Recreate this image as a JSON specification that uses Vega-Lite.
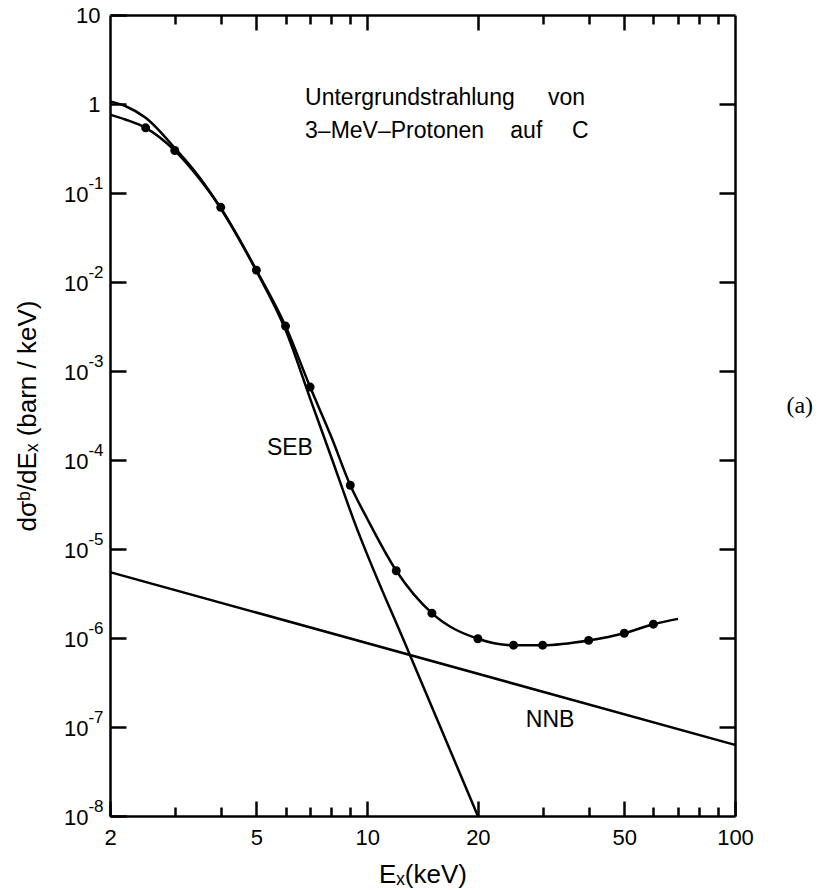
{
  "$schema": "https://vega.github.io/schema/vega-lite/v6.json",
  "width": 625,
  "height": 801,
  "autosize": {"type": "none"},
  "padding": {"left": 110, "top": 15, "right": 89, "bottom": 74},
  "background": "white",
  "config": {
    "view": {"stroke": null},
    "axis": {
      "grid": false,
      "labelFont": "Liberation Sans",
      "titleFont": "Liberation Sans",
      "labelColor": "black",
      "titleColor": "black",
      "domainColor": "black",
      "tickColor": "black",
      "domainWidth": 2.5,
      "tickWidth": 2.5,
      "labelFontSize": 22,
      "titleFontSize": 26,
      "titleFontWeight": "normal",
      "labelFlush": false,
      "labelOverlap": false
    }
  },
  "datasets": {
    "curves": [
      {"series": "SEB", "E": 2, "v": 1.07},
      {"series": "SEB", "E": 2.2, "v": 0.95},
      {"series": "SEB", "E": 2.5, "v": 0.7},
      {"series": "SEB", "E": 3, "v": 0.32},
      {"series": "SEB", "E": 3.5, "v": 0.15},
      {"series": "SEB", "E": 4, "v": 0.067},
      {"series": "SEB", "E": 5, "v": 0.0133},
      {"series": "SEB", "E": 6, "v": 0.0029},
      {"series": "SEB", "E": 7, "v": 0.00049},
      {"series": "SEB", "E": 8, "v": 0.000106},
      {"series": "SEB", "E": 9.2, "v": 2.1e-5},
      {"series": "SEB", "E": 13, "v": 6.8e-7},
      {"series": "SEB", "E": 16, "v": 8.9e-8},
      {"series": "SEB", "E": 20, "v": 1e-8},
      {"series": "Fit", "E": 2, "v": 0.76},
      {"series": "Fit", "E": 2.2, "v": 0.67},
      {"series": "Fit", "E": 2.5, "v": 0.54},
      {"series": "Fit", "E": 3, "v": 0.3},
      {"series": "Fit", "E": 3.5, "v": 0.145},
      {"series": "Fit", "E": 4, "v": 0.068},
      {"series": "Fit", "E": 5, "v": 0.0136},
      {"series": "Fit", "E": 6, "v": 0.0032},
      {"series": "Fit", "E": 7, "v": 0.00066},
      {"series": "Fit", "E": 8, "v": 0.00018},
      {"series": "Fit", "E": 9, "v": 5.2e-5},
      {"series": "Fit", "E": 10, "v": 2.2e-5},
      {"series": "Fit", "E": 12, "v": 5.7e-6},
      {"series": "Fit", "E": 15, "v": 1.9e-6},
      {"series": "Fit", "E": 20, "v": 9.8e-7},
      {"series": "Fit", "E": 25, "v": 8.3e-7},
      {"series": "Fit", "E": 30, "v": 8.3e-7},
      {"series": "Fit", "E": 40, "v": 9.4e-7},
      {"series": "Fit", "E": 50, "v": 1.13e-6},
      {"series": "Fit", "E": 60, "v": 1.43e-6},
      {"series": "Fit", "E": 70, "v": 1.64e-6},
      {"series": "NNB", "E": 2, "v": 5.5e-6},
      {"series": "NNB", "E": 100, "v": 6.3e-8}
    ],
    "points": [
      {"E": 2.5, "v": 0.54},
      {"E": 3, "v": 0.3},
      {"E": 4, "v": 0.069},
      {"E": 5, "v": 0.0136},
      {"E": 6, "v": 0.0032},
      {"E": 7, "v": 0.00066},
      {"E": 9, "v": 5.2e-5},
      {"E": 12, "v": 5.7e-6},
      {"E": 15, "v": 1.9e-6},
      {"E": 20, "v": 9.8e-7},
      {"E": 25, "v": 8.3e-7},
      {"E": 30, "v": 8.3e-7},
      {"E": 40, "v": 9.4e-7},
      {"E": 50, "v": 1.13e-6},
      {"E": 60, "v": 1.43e-6}
    ],
    "labels": [
      {"E": 6.78, "v": 0.975, "label": "Untergrundstrahlung"},
      {"E": 31.0, "v": 0.975, "label": "von"},
      {"E": 6.78, "v": 0.415, "label": "3–MeV–Protonen"},
      {"E": 24.5, "v": 0.415, "label": "auf"},
      {"E": 36.05, "v": 0.415, "label": "C"},
      {"E": 5.34, "v": 0.000114, "label": "SEB"},
      {"E": 27.0, "v": 1e-7, "label": "NNB"}
    ],
    "side": [
      {"E": 138, "v": 0.0004, "label": "(a)"}
    ]
  },
  "layer": [
    {
      "data": {"name": "curves"},
      "mark": {"type": "line", "color": "black", "strokeWidth": 2.5, "interpolate": "monotone"},
      "encoding": {
        "x": {
          "field": "E", "type": "quantitative",
          "scale": {"type": "log", "domain": [2, 100], "nice": false},
          "axis": {
            "orient": "bottom",
            "values": [2, 5, 10, 20, 50, 100],
            "tickSize": -15,
            "labelPadding": 26,
            "labelExpr": "'' + datum.value",
            "title": "Eₓ(keV)",
            "titlePadding": 13
          }
        },
        "y": {
          "field": "v", "type": "quantitative",
          "scale": {"type": "log", "domain": [1e-8, 10], "nice": false},
          "axis": {
            "orient": "left",
            "values": [1e-8, 1e-7, 1e-6, 1e-5, 1e-4, 1e-3, 1e-2, 1e-1],
            "tickSize": -16,
            "labelPadding": 38,
            "labelOffset": 1,
            "labelExpr": "'10'",
            "title": "dσᵇ/dEₓ (barn / keV)",
            "titlePadding": 23
          }
        },
        "detail": {"field": "series"}
      }
    },
    {
      "data": {"name": "points"},
      "mark": {"type": "circle", "color": "black", "opacity": 1, "size": 80},
      "encoding": {
        "x": {
          "field": "E", "type": "quantitative",
          "axis": {"orient": "top", "values": [5, 10, 20, 50], "tickSize": -15, "labels": false, "title": null}
        },
        "y": {
          "field": "v", "type": "quantitative",
          "axis": {"orient": "right", "values": [1e-7, 1e-6, 1e-5, 1e-4, 1e-3, 1e-2, 1e-1, 1], "tickSize": -16, "labels": false, "title": null}
        }
      }
    },
    {
      "data": {"name": "labels"},
      "mark": {"type": "text", "color": "black", "font": "Liberation Sans", "fontSize": 23, "align": "left", "baseline": "alphabetic"},
      "encoding": {
        "x": {
          "field": "E", "type": "quantitative",
          "axis": {"orient": "bottom", "values": [3, 4, 6, 7, 8, 9, 30, 40, 60, 70, 80, 90], "tickSize": -9, "labels": false, "domain": false, "title": null}
        },
        "y": {
          "field": "v", "type": "quantitative",
          "axis": {"orient": "left", "values": [1, 10], "tickSize": -16, "labelPadding": 26, "labelExpr": "datum.value >= 5 ? '10' : '1'", "domain": false, "title": null}
        },
        "text": {"field": "label"}
      }
    },
    {
      "data": {"name": "side"},
      "mark": {"type": "text", "color": "black", "font": "Liberation Serif", "fontSize": 24, "align": "left", "baseline": "middle"},
      "encoding": {
        "x": {
          "field": "E", "type": "quantitative",
          "axis": {"orient": "top", "values": [3, 4, 6, 7, 8, 9, 30, 40, 60, 70, 80, 90], "tickSize": -9, "labels": false, "domain": false, "title": null}
        },
        "y": {
          "field": "v", "type": "quantitative",
          "axis": {"orient": "left", "values": [1e-8, 1e-7, 1e-6, 1e-5, 1e-4, 1e-3, 1e-2, 1e-1], "ticks": false, "labelPadding": 7, "labelFontSize": 17, "labelOffset": -10, "labelExpr": "'-' + round(-log(datum.value)/LN10)", "domain": false, "title": null}
        },
        "text": {"field": "label"}
      }
    }
  ],
  "resolve": {"axis": {"x": "independent", "y": "independent"}}
}
